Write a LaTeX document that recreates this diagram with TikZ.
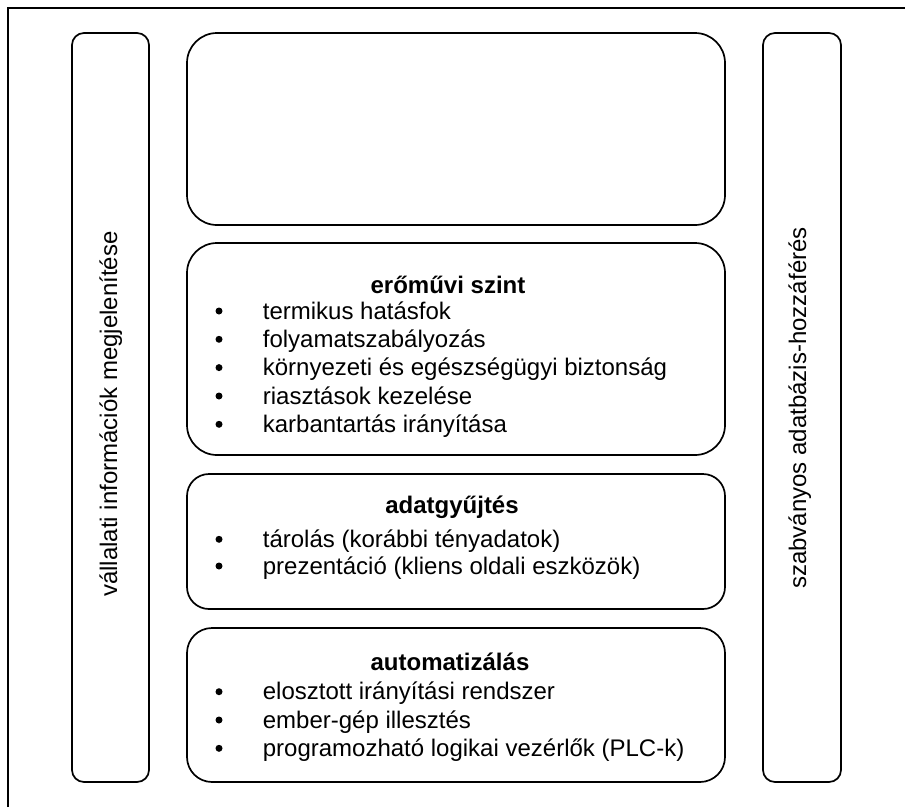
\documentclass[tikz,border=0pt]{standalone}
\usepackage{fontspec}
\setmainfont{Liberation Sans}
\begin{document}
\begin{tikzpicture}[x=1pt,y=-1pt,
  line width=1.7pt,
  colbox/.style={draw, rounded corners=12pt, minimum width=77pt, minimum height=749pt, inner sep=0pt},
  layerbox/.style={draw, minimum width=538pt, inner sep=0pt},
  ttl/.style={anchor=base, inner sep=0pt, font=\fontsize{24}{28}\selectfont\bfseries},
  itm/.style={anchor=base west, inner sep=0pt, font=\fontsize{24}{28}\selectfont},
  vtxt/.style={anchor=base, inner sep=0pt, rotate=90, font=\fontsize{24}{28}\selectfont},
  bul/.style={circle, fill, inner sep=0pt, minimum size=7pt}
]
\useasboundingbox (0,0) rectangle (905,807);
% frame (only top and left edges visible)
\coordinate (fbl) at (8,807);
\coordinate (ftl) at (8,8);
\coordinate (ftr) at (905,8);
\draw[line width=2.4pt] (fbl) -- (ftl) -- (ftr);

% side columns
\node[colbox] (left) at (110.5,407.5) {};
\node[colbox, minimum width=78pt] (right) at (802,407.5) {};
\node[vtxt] (lefttxt) at (117,414) {vállalati információk megjelenítése};
\node[vtxt] (righttxt) at (806,408) {szabványos adatbázis-hozzáférés};

% layer boxes
\node[layerbox, minimum height=192pt, rounded corners=30pt] (b1) at (456,129) {};
\node[layerbox, minimum height=212pt, rounded corners=30pt] (b2) at (456,349) {};
\node[layerbox, minimum height=135pt, rounded corners=22pt] (b3) at (456,541.5) {};
\node[layerbox, minimum height=154pt, rounded corners=25pt] (b4) at (456,705) {};

% box 2
\node[ttl] (t2) at (448,293) {erőművi szint};
\node[bul] (b2d1) at (219,311) {};
\node[bul] (b2d2) at (219,339.3) {};
\node[bul] (b2d3) at (219,367.6) {};
\node[bul] (b2d4) at (219,396) {};
\node[bul] (b2d5) at (219,424.3) {};
\node[itm] (b2i1) at (262,319) {termikus hatásfok};
\node[itm] (b2i2) at (262,347.3) {folyamatszabályozás};
\node[itm] (b2i3) at (262,375.6) {környezeti és egészségügyi biztonság};
\node[itm] (b2i4) at (262,404) {riasztások kezelése};
\node[itm] (b2i5) at (262,432.3) {karbantartás irányítása};

% box 3
\node[ttl] (t3) at (452,513) {adatgyűjtés};
\node[bul] (b3d1) at (219,539.3) {};
\node[bul] (b3d2) at (219,566) {};
\node[itm] (b3i1) at (262,547.3) {tárolás (korábbi tényadatok)};
\node[itm] (b3i2) at (262,574) {prezentáció (kliens oldali eszközök)};

% box 4
\node[ttl] (t4) at (450,670) {automatizálás};
\node[bul] (b4d1) at (219,691.7) {};
\node[bul] (b4d2) at (219,720) {};
\node[bul] (b4d3) at (219,748.3) {};
\node[itm] (b4i1) at (262,699.7) {elosztott irányítási rendszer};
\node[itm] (b4i2) at (262,728) {ember-gép illesztés};
\node[itm] (b4i3) at (262,756.3) {programozható logikai vezérlők (PLC-k)};
\end{tikzpicture}
\end{document}
